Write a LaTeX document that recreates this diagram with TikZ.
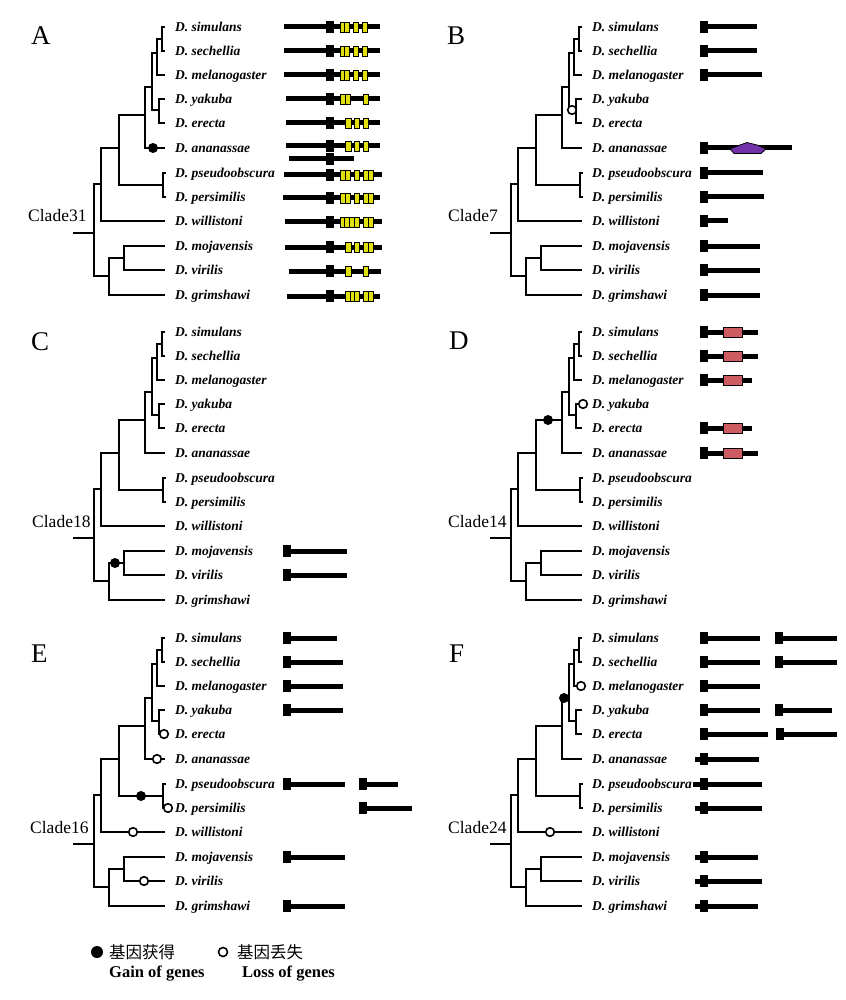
\documentclass[tikz,border=0pt]{standalone}
\usepackage{fontspec}
\setmainfont{Liberation Serif}
\newfontfamily\cjk{Noto Sans CJK SC}
\definecolor{ydomc}{rgb}{0.88,0.88,0.05}
\definecolor{redbox}{rgb}{0.80,0.36,0.38}
\definecolor{purp}{rgb}{0.45,0.20,0.66}
\newcommand{\drawtree}{%
 \draw[tree] (73,233) -- (94,233);
 \draw[tree] (101,184) -- (94,184) -- (94,276) -- (109,276);
 \draw[tree] (165,221) -- (101,221) -- (101,148) -- (119,148);
 \draw[tree] (145,115) -- (119,115) -- (119,185) -- (163,185);
 \draw[tree] (166,173) -- (163,173) -- (163,197) -- (166,197);
 \draw[tree] (152,87) -- (145,87) -- (145,148) -- (165,148);
 \draw[tree] (157,53) -- (152,53) -- (152,110) -- (159,110);
 \draw[tree] (165,99) -- (159,99) -- (159,123) -- (165,123);
 \draw[tree] (162,39) -- (157,39) -- (157,75) -- (165,75);
 \draw[tree] (165,27) -- (162,27) -- (162,51) -- (165,51);
 \draw[tree] (124,258) -- (109,258) -- (109,295) -- (165,295);
 \draw[tree] (165,246) -- (124,246) -- (124,270) -- (165,270);
 \node[sp] (sim) at (175,31.5) {D. simulans};
 \node[sp] (sec) at (175,55.5) {D. sechellia};
 \node[sp] (mel) at (175,79.5) {D. melanogaster};
 \node[sp] (yak) at (175,103.5) {D. yakuba};
 \node[sp] (ere) at (175,127.5) {D. erecta};
 \node[sp] (ana) at (175,152.5) {D. ananassae};
 \node[sp] (pse) at (175,177.5) {D. pseudoobscura};
 \node[sp] (per) at (175,201.5) {D. persimilis};
 \node[sp] (wil) at (175,225.5) {D. willistoni};
 \node[sp] (moj) at (175,250.5) {D. mojavensis};
 \node[sp] (vir) at (175,274.5) {D. virilis};
 \node[sp] (gri) at (175,299.5) {D. grimshawi};
}
% gene line: x1 x2 y
\newcommand{\gl}[3]{\draw[gene] (#1,#3) -- (#2,#3);}
% square: x y
\newcommand{\gs}[2]{\fill ({#1-4},{#2-6}) rectangle ({#1+4},{#2+6});}
% yellow domain group: x1 x2 y n
\newcommand{\yd}[4]{%
 \pgfmathsetmacro\ydwid{(#2-#1)/#4}%
 \foreach \k in {1,...,#4}{\draw[ydom] ({#1+(\k-1)*\ydwid},{#3-5}) rectangle ({#1+\k*\ydwid},{#3+5});}%
}
\newcommand{\rb}[1]{\draw[fill=redbox,line width=0.9pt] (723,{#1-5}) rectangle (742,{#1+5});}
\newcommand{\gainm}[2]{\fill (#1,#2) circle[radius=5pt];}
\newcommand{\lossm}[2]{\draw[line width=1.6pt,fill=white] (#1,#2) circle[radius=4.3pt];}
\begin{document}
\begin{tikzpicture}[x=1pt,y=-1pt,
 tree/.style={line width=2.1pt,line join=miter},
 gene/.style={line width=5pt},
 ydom/.style={fill=ydomc,draw=black,line width=0.8pt},
 sp/.style={font=\fontsize{13.5}{16}\selectfont\bfseries\itshape,inner sep=0pt,anchor=base west},
 clade/.style={font=\fontsize{17.5}{20}\selectfont,inner sep=0pt,anchor=base west},
 plab/.style={font=\fontsize{27}{30}\selectfont,inner sep=0pt,anchor=base west},
 leg/.style={font=\fontsize{16.5}{19}\selectfont\bfseries,inner sep=0pt,anchor=base west},
 legc/.style={font=\fontsize{16.5}{19}\selectfont\cjk,inner sep=0pt,anchor=west}]
\fill[white] (0,0) rectangle (845,1000);
\useasboundingbox (0,0) rectangle (845,1000);
% ---------- trees ----------
\begin{scope}[name prefix=A-]\drawtree\end{scope}
\begin{scope}[shift={(417,0)},name prefix=B-]\drawtree\end{scope}
\begin{scope}[shift={(0,305)},name prefix=C-]\drawtree\end{scope}
\begin{scope}[shift={(417,305)},name prefix=D-]\drawtree\end{scope}
\begin{scope}[shift={(0,611)},name prefix=E-]\drawtree\end{scope}
\begin{scope}[shift={(417,611)},name prefix=F-]\drawtree\end{scope}
% ---------- panel labels ----------
\node[plab] (labA) at (31,45) {A};
\node[plab] (labB) at (447,45) {B};
\node[plab] (labC) at (31,350) {C};
\node[plab] (labD) at (449,349) {D};
\node[plab] (labE) at (31,662) {E};
\node[plab] (labF) at (449,662) {F};
\node[clade] (clA) at (28,222) {Clade31};
\node[clade] (clB) at (448,222) {Clade7};
\node[clade] (clC) at (32,527) {Clade18};
\node[clade] (clD) at (448,527) {Clade14};
\node[clade] (clE) at (30,833) {Clade16};
\node[clade] (clF) at (448,833) {Clade24};
% ---------- panel A genes ----------
\gl{284}{380}{27}\gs{329.5}{27}\yd{340}{349.3}{27}{2}\yd{353.3}{358.7}{27}{1}\yd{362.3}{367.7}{27}{1}
\gl{284}{380}{51}\gs{329.5}{51}\yd{340}{349.3}{51}{2}\yd{353.3}{358.7}{51}{1}\yd{362.3}{367.7}{51}{1}
\gl{284}{380}{75}\gs{329.5}{75}\yd{340}{349.3}{75}{2}\yd{353.3}{358.7}{75}{1}\yd{362.3}{367.7}{75}{1}
\gl{286}{380}{99}\gs{329.5}{99}\yd{340.7}{350}{99}{2}\yd{363.3}{368.7}{99}{1}
\gl{286}{380}{123}\gs{329.5}{123}\yd{345.7}{351}{123}{1}\yd{354}{359.3}{123}{1}\yd{363.3}{368.7}{123}{1}
\gl{286}{380}{146}\gs{329.5}{146}\yd{345.7}{351}{146}{1}\yd{354}{359.3}{146}{1}\yd{363.3}{368.7}{146}{1}
\gl{289}{354}{159}\gs{329.5}{159}
\gl{284}{382}{175}\gs{329.5}{175}\yd{340}{350}{175}{2}\yd{354}{359.3}{175}{1}\yd{363.3}{373.3}{175}{2}
\gl{283}{380}{198}\gs{329.5}{198}\yd{340}{350}{198}{2}\yd{354}{359.3}{198}{1}\yd{363.3}{373.3}{198}{2}
\gl{285}{382}{222}\gs{329.5}{222}\yd{340}{359}{222}{4}\yd{363.3}{373.3}{222}{2}
\gl{285}{382}{247}\gs{329.5}{247}\yd{345.7}{351}{247}{1}\yd{354}{359.3}{247}{1}\yd{363.3}{373.3}{247}{2}
\gl{289}{381}{271}\gs{329.5}{271}\yd{345.7}{351}{271}{1}\yd{363.3}{368.7}{271}{1}
\gl{287}{380}{296}\gs{329.5}{296}\yd{345.7}{359}{296}{3}\yd{363.3}{373.3}{296}{2}
\gainm{153}{148}
% ---------- panel B genes ----------
\gl{704}{757}{27}\gs{704}{27}
\gl{704}{757}{51}\gs{704}{51}
\gl{704}{762}{75}\gs{704}{75}
\gl{704}{792}{148}\gs{704}{148}
\draw[fill=purp,line width=0.8pt] (730,149) -- (740,145) -- (747,142.5) -- (757,145) -- (766,149) -- (761,153.5) -- (734,153.5) -- cycle;
\gl{704}{763}{173}\gs{704}{173}
\gl{704}{764}{197}\gs{704}{197}
\gl{704}{728}{221}\gs{704}{221}
\gl{704}{760}{246}\gs{704}{246}
\gl{704}{760}{270}\gs{704}{270}
\gl{704}{760}{295}\gs{704}{295}
\lossm{572}{110}
% ---------- panel C genes ----------
\gl{286.5}{347}{551}\gs{286.5}{551}
\gl{286.5}{347}{575}\gs{286.5}{575}
\gainm{115}{563}
% ---------- panel D genes ----------
\gl{704}{758}{332}\gs{704}{332}\rb{332}
\gl{704}{758}{356}\gs{704}{356}\rb{356}
\gl{704}{752}{380}\gs{704}{380}\rb{380}
\gl{704}{752}{428}\gs{704}{428}\rb{428}
\gl{704}{758}{453}\gs{704}{453}\rb{453}
\gainm{548}{420}
\lossm{583}{404}
% ---------- panel E genes ----------
\gl{286.5}{337}{638}\gs{286.5}{638}
\gl{286.5}{343}{662}\gs{286.5}{662}
\gl{286.5}{343}{686}\gs{286.5}{686}
\gl{286.5}{343}{710}\gs{286.5}{710}
\gl{286.5}{345}{784}\gs{286.5}{784}
\gl{363}{398}{784}\gs{363}{784}
\gl{363}{412}{808}\gs{363}{808}
\gl{286.5}{345}{857}\gs{286.5}{857}
\gl{286.5}{345}{906}\gs{286.5}{906}
\lossm{164}{734}
\lossm{157}{759}
\gainm{141}{796}
\lossm{168}{808}
\lossm{133}{832}
\lossm{144}{881}
% ---------- panel F genes ----------
\gl{704}{760}{638}\gs{704}{638}\gl{779}{837}{638}\gs{779}{638}
\gl{704}{760}{662}\gs{704}{662}\gl{779}{837}{662}\gs{779}{662}
\gl{704}{760}{686}\gs{704}{686}
\gl{704}{760}{710}\gs{704}{710}\gl{779}{832}{710}\gs{779}{710}
\gl{704}{768}{734}\gs{704}{734}\gl{780}{837}{734}\gs{780}{734}
\gl{695}{759}{759}\gs{704}{759}
\gl{693}{762}{784}\gs{704}{784}
\gl{695}{762}{808}\gs{704}{808}
\gl{695}{758}{857}\gs{704}{857}
\gl{695}{762}{881}\gs{704}{881}
\gl{695}{758}{906}\gs{704}{906}
\lossm{581}{686}
\gainm{564}{698}
\lossm{550}{832}
% ---------- legend ----------
\fill (97,952) circle[radius=6pt];
\node[legc] (lg1) at (109,952) {基因获得};
\draw[line width=1.6pt,fill=white] (223,952) circle[radius=4.5pt];
\node[legc] (lg2) at (237,952) {基因丢失};
\node[leg] (lg3) at (109,977.5) {Gain of genes};
\node[leg] (lg4) at (242,977.5) {Loss of genes};
\end{tikzpicture}
\end{document}
